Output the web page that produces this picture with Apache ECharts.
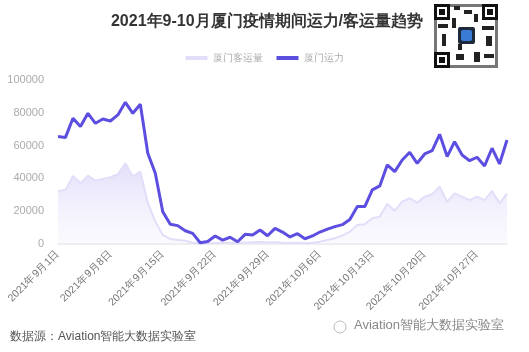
<!DOCTYPE html>
<html>
<head>
<meta charset="utf-8">
<style>
  html, body { margin: 0; padding: 0; background: #fff; }
  #chart { width: 529px; height: 352px; }
</style>
<script src="https://cdn.jsdelivr.net/npm/echarts@6/dist/echarts.min.js"></script>
</head>
<body>
<div id="chart"></div>
<script>
// 2021-09-01 .. 2021-10-31
let dates = []
for (let d = 1; d <= 30; d++) dates.push('2021年9月' + d + '日')
for (let d = 1; d <= 31; d++) dates.push('2021年10月' + d + '日')

let passengers = [
  32300, 33000, 41500, 37000, 41700, 38600, 39700, 40700, 42500, 49200,
  41100, 44100, 25200, 13600, 5500, 3000, 2500, 2000, 800, 300,
  300, 600, 800, 700, 500, 900, 1000, 1200, 900, 1100,
  800, 600, 700, 500, 800, 1400, 2400, 3500, 5100, 7500,
  11600, 12000, 15700, 16700, 24400, 20300, 25800, 27900, 25200, 28900,
  30300, 35000, 25800, 30900, 28900, 26800, 28900, 26800, 32300, 24800,
  30900
]
let capacity = [
  65500, 65000, 76700, 71600, 79700, 73600, 76200, 75000, 78700, 86400,
  79700, 85200, 55300, 43100, 19700, 12000, 11200, 8100, 6500, 800,
  1500, 4900, 2400, 4100, 1400, 5900, 5500, 8500, 5000, 9500,
  7300, 4300, 6300, 3200, 4900, 7300, 9100, 10600, 11800, 15000,
  22800, 22800, 33000, 35400, 48200, 44100, 51200, 55900, 49200, 54900,
  56900, 66900, 53300, 62400, 54300, 50800, 52900, 47600, 58400, 48800,
  63400
]

let chart = echarts.init(document.getElementById('chart'))
chart.setOption({
  animation: false,
  title: {
    text: '2021年9-10月厦门疫情期间运力/客运量趋势',
    left: 262,
    textAlign: 'center',
    top: 9,
    textStyle: { fontSize: 16, fontWeight: 'bold', color: '#333' }
  },
  legend: {
    top: 48,
    left: 'center',
    itemWidth: 22,
    itemHeight: 4,
    itemGap: 14,
    textStyle: { color: '#aaa', fontSize: 10 },
    data: [
      { name: '厦门客运量', icon: 'rect' },
      { name: '厦门运力', icon: 'rect' }
    ]
  },
  grid: { left: 58, right: 22, top: 80, bottom: 108 },
  xAxis: {
    type: 'category',
    boundaryGap: false,
    data: dates,
    axisLine: { lineStyle: { color: '#eee', width: 2 } },
    axisTick: { show: false },
    axisLabel: { interval: 6, rotate: 45, color: '#777', fontSize: 10.5, margin: 8 }
  },
  yAxis: {
    type: 'value',
    min: 0,
    max: 100000,
    interval: 20000,
    splitLine: { show: false },
    axisLine: { show: false },
    axisTick: { show: false },
    axisLabel: { color: '#aaa', fontSize: 11, margin: 14, formatter: v => String(v) }
  },
  series: [
    {
      name: '厦门客运量',
      type: 'line',
      data: passengers,
      symbol: 'none',
      itemStyle: { color: '#e2defa' },
      lineStyle: { color: '#e2defa', width: 2 },
      areaStyle: {
        color: new echarts.graphic.LinearGradient(0, 0, 0, 1, [
          { offset: 0, color: 'rgba(212, 206, 246, 0.95)' },
          { offset: 1, color: 'rgba(240, 238, 252, 0.4)' }
        ])
      }
    },
    {
      name: '厦门运力',
      type: 'line',
      data: capacity,
      symbol: 'none',
      itemStyle: { color: '#5c4ee0' },
      lineStyle: { color: '#5c4ee0', width: 3 }
    }
  ],
  graphic: [
    {
      type: 'text', left: 10, top: 331,
      style: { text: '数据源：Aviation智能大数据实验室', fill: '#555', fontSize: 12 }
    },
    {
      type: 'text', left: 354, top: 319,
      style: { text: 'Aviation智能大数据实验室', fill: '#888', fontSize: 13 }
    },
    {
      type: 'circle', shape: { cx: 340, cy: 327, r: 6 },
      style: { fill: 'none', stroke: '#bbb', lineWidth: 1 }
    },
    // qr code sketch
    {
      type: 'group', left: 434, top: 4,
      children: [
        { type: 'rect', shape: { x: 0, y: 0, width: 64, height: 64 }, style: { fill: '#777' } },
        { type: 'rect', shape: { x: 3, y: 3, width: 58, height: 58 }, style: { fill: '#fff' } },
        { type: 'rect', shape: { x: 0, y: 0, width: 16, height: 16 }, style: { fill: '#111' } },
        { type: 'rect', shape: { x: 3, y: 3, width: 10, height: 10 }, style: { fill: '#fff' } },
        { type: 'rect', shape: { x: 5, y: 5, width: 6, height: 6 }, style: { fill: '#111' } },
        { type: 'rect', shape: { x: 48, y: 0, width: 16, height: 16 }, style: { fill: '#111' } },
        { type: 'rect', shape: { x: 51, y: 3, width: 10, height: 10 }, style: { fill: '#fff' } },
        { type: 'rect', shape: { x: 53, y: 5, width: 6, height: 6 }, style: { fill: '#111' } },
        { type: 'rect', shape: { x: 0, y: 48, width: 16, height: 16 }, style: { fill: '#111' } },
        { type: 'rect', shape: { x: 3, y: 51, width: 10, height: 10 }, style: { fill: '#fff' } },
        { type: 'rect', shape: { x: 5, y: 53, width: 6, height: 6 }, style: { fill: '#111' } },
        { type: 'rect', shape: { x: 20, y: 2, width: 6, height: 4 }, style: { fill: '#222' } },
        { type: 'rect', shape: { x: 30, y: 6, width: 8, height: 4 }, style: { fill: '#222' } },
        { type: 'rect', shape: { x: 40, y: 10, width: 4, height: 8 }, style: { fill: '#222' } },
        { type: 'rect', shape: { x: 4, y: 20, width: 10, height: 4 }, style: { fill: '#222' } },
        { type: 'rect', shape: { x: 8, y: 30, width: 4, height: 12 }, style: { fill: '#222' } },
        { type: 'rect', shape: { x: 48, y: 22, width: 12, height: 4 }, style: { fill: '#222' } },
        { type: 'rect', shape: { x: 52, y: 32, width: 6, height: 10 }, style: { fill: '#222' } },
        { type: 'rect', shape: { x: 22, y: 50, width: 8, height: 6 }, style: { fill: '#222' } },
        { type: 'rect', shape: { x: 40, y: 48, width: 6, height: 10 }, style: { fill: '#222' } },
        { type: 'rect', shape: { x: 50, y: 50, width: 10, height: 4 }, style: { fill: '#222' } },
        { type: 'rect', shape: { x: 18, y: 14, width: 4, height: 10 }, style: { fill: '#222' } },
        { type: 'rect', shape: { x: 24, y: 40, width: 4, height: 6 }, style: { fill: '#222' } },
        { type: 'rect', shape: { x: 24, y: 23, width: 17, height: 17, r: 2 }, style: { fill: '#1e2a3a' } },
        { type: 'rect', shape: { x: 27, y: 26, width: 11, height: 11, r: 2 }, style: { fill: '#3a7bd5' } }
      ]
    }
  ]
})
</script>
</body>
</html>
